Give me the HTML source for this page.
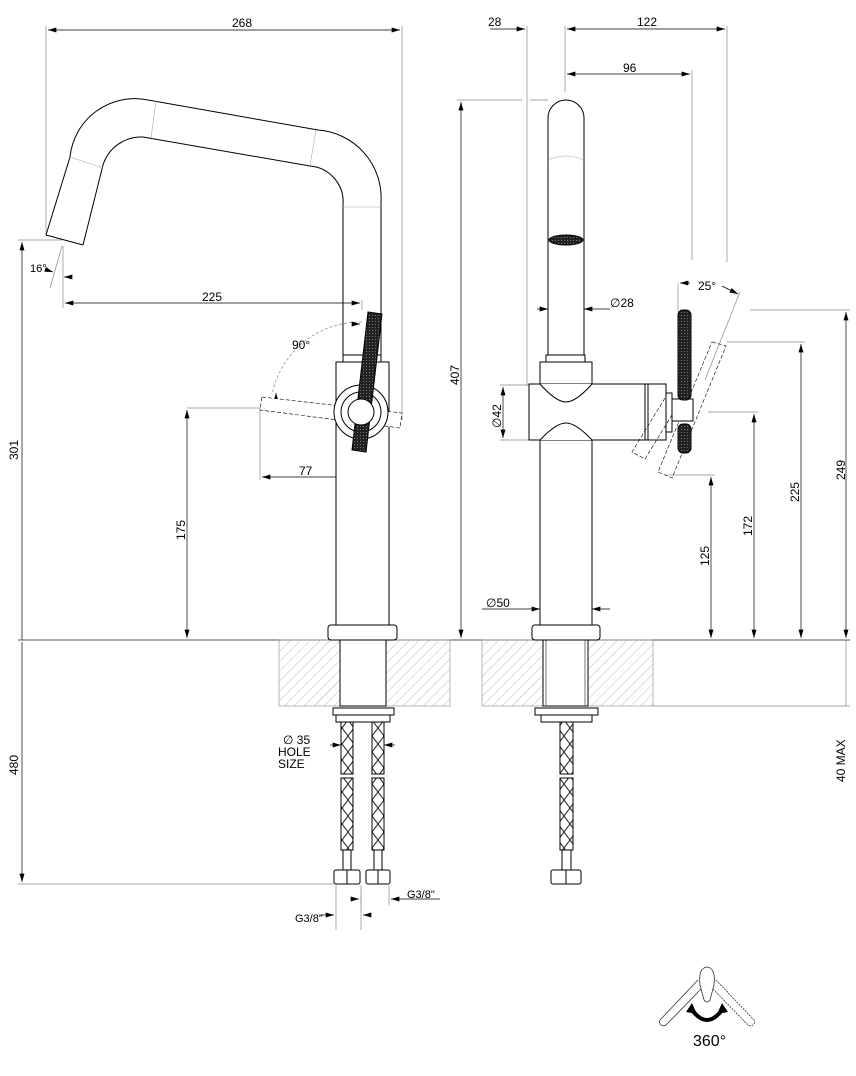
<!DOCTYPE html>
<html><head><meta charset="utf-8"><style>
html,body{margin:0;padding:0;background:#fff;}
svg{display:block;}
text{font-family:"Liberation Sans",sans-serif;font-size:12px;fill:#000;}
</style></head><body>
<svg width="856" height="1076" viewBox="0 0 856 1076" xmlns="http://www.w3.org/2000/svg">
<defs>
<marker id="a" viewBox="0 0 10 6" refX="10" refY="3" markerWidth="10" markerHeight="5" orient="auto-start-reverse" markerUnits="userSpaceOnUse"><path d="M0,0L10,3L0,6z" fill="#000"/></marker>
<pattern id="h" width="7" height="7" patternUnits="userSpaceOnUse" patternTransform="rotate(45)"><line x1="0" y1="0" x2="0" y2="7" stroke="#aaa" stroke-width="0.8"/></pattern>
<pattern id="k" width="3" height="3" patternUnits="userSpaceOnUse"><rect width="3" height="3" fill="#222"/><rect width="1" height="1" fill="#777"/></pattern>
<pattern id="br" width="12" height="16" patternUnits="userSpaceOnUse"><path d="M0,0L12,16M12,0L0,16" stroke="#222" stroke-width="1" fill="none"/></pattern>
</defs>
<g fill="none" stroke="#000" stroke-width="1">
<g stroke="#888" stroke-width="0.7">
<line x1="46" y1="26" x2="46" y2="236"/><line x1="402" y1="26" x2="402" y2="420"/>
<line x1="18" y1="240" x2="62" y2="240"/><line x1="63" y1="246" x2="63" y2="308"/><line x1="62" y1="246" x2="50" y2="288"/>
<line x1="362" y1="300" x2="362" y2="310"/>
<line x1="187" y1="408" x2="262" y2="408"/><line x1="260" y1="408" x2="260" y2="480"/>
<line x1="18" y1="884" x2="334" y2="884"/>
<line x1="527" y1="26" x2="527" y2="385"/><line x1="565" y1="26" x2="565" y2="92"/><line x1="727" y1="26" x2="727" y2="262"/>
<line x1="692" y1="70" x2="692" y2="260"/>
<line x1="457" y1="100" x2="522" y2="100"/><line x1="530" y1="100" x2="548" y2="100"/>
<line x1="500" y1="385" x2="529" y2="385"/><line x1="500" y1="440" x2="529" y2="440"/>
<line x1="750" y1="310" x2="850" y2="310"/><line x1="727" y1="342" x2="805" y2="342"/>
<line x1="708" y1="412" x2="758" y2="412"/><line x1="665" y1="475" x2="715" y2="475"/>
<line x1="678" y1="283" x2="678" y2="312"/><line x1="740" y1="292" x2="705" y2="380"/>
<line x1="846" y1="640" x2="846" y2="706"/><line x1="653" y1="706" x2="850" y2="706"/>
<line x1="361" y1="895" x2="361" y2="905"/><line x1="389" y1="885" x2="389" y2="905"/><line x1="336" y1="885" x2="336" y2="930"/><line x1="361" y1="885" x2="361" y2="930"/>
<path d="M362,322 A90,90 0 0 0 272,395" stroke-dasharray="3,2"/>
</g>
<g stroke-width="0.7">
<line x1="48" y1="30" x2="400" y2="30" marker-start="url(#a)" marker-end="url(#a)"/>
<line x1="22" y1="242" x2="22" y2="640" marker-start="url(#a)"/>
<line x1="22" y1="642" x2="22" y2="882" marker-end="url(#a)"/>
<line x1="65" y1="303" x2="360" y2="303" marker-start="url(#a)" marker-end="url(#a)"/>
<line x1="187" y1="410" x2="187" y2="638" marker-start="url(#a)" marker-end="url(#a)"/>
<line x1="262" y1="477" x2="360" y2="477" marker-start="url(#a)" marker-end="url(#a)"/>
<line x1="64" y1="277" x2="72" y2="277" marker-start="url(#a)"/>
<line x1="53" y1="272" x2="47" y2="270" marker-start="url(#a)"/>
<line x1="360" y1="324" x2="352" y2="324" marker-start="url(#a)"/>
<line x1="276" y1="393" x2="276" y2="398" marker-start="url(#a)"/>
<line x1="490" y1="29" x2="525" y2="29" marker-end="url(#a)"/>
<line x1="567" y1="29" x2="725" y2="29" marker-start="url(#a)" marker-end="url(#a)"/>
<line x1="567" y1="74" x2="690" y2="74" marker-start="url(#a)" marker-end="url(#a)"/>
<line x1="461" y1="102" x2="461" y2="638" marker-start="url(#a)" marker-end="url(#a)"/>
<line x1="503" y1="387" x2="503" y2="438" marker-start="url(#a)" marker-end="url(#a)"/>
<line x1="537" y1="309" x2="548" y2="309" marker-end="url(#a)"/><line x1="584" y1="309" x2="610" y2="309" marker-start="url(#a)"/>
<line x1="482" y1="609" x2="540" y2="609" marker-end="url(#a)"/><line x1="592" y1="609" x2="610" y2="609" marker-start="url(#a)"/>
<line x1="711" y1="477" x2="711" y2="638" marker-start="url(#a)" marker-end="url(#a)"/>
<line x1="754" y1="414" x2="754" y2="638" marker-start="url(#a)" marker-end="url(#a)"/>
<line x1="801" y1="344" x2="801" y2="638" marker-start="url(#a)" marker-end="url(#a)"/>
<line x1="846" y1="312" x2="846" y2="638" marker-start="url(#a)" marker-end="url(#a)"/>
<line x1="690" y1="283" x2="680" y2="283" marker-end="url(#a)"/>
<line x1="722" y1="286" x2="738" y2="294" marker-end="url(#a)"/>
<line x1="330" y1="745" x2="341" y2="745" marker-end="url(#a)"/><line x1="384" y1="745" x2="395" y2="745" marker-start="url(#a)"/>
<line x1="320" y1="915" x2="334" y2="915" marker-end="url(#a)"/><line x1="363" y1="915" x2="368" y2="915" marker-start="url(#a)"/>
<line x1="352" y1="899" x2="359" y2="899" marker-end="url(#a)"/><line x1="391" y1="899" x2="440" y2="899" marker-start="url(#a)"/>
</g>
<line x1="18" y1="640" x2="850" y2="640" stroke="#555"/>
<rect x="279" y="640" width="171" height="66" fill="url(#h)" stroke="#999" stroke-width="0.7"/>
<rect x="482" y="640" width="171" height="66" fill="url(#h)" stroke="#999" stroke-width="0.7"/>
<rect x="340" y="640" width="46" height="66" fill="#fff"/>
<rect x="543" y="640" width="45" height="66" fill="#fff"/>
<line x1="546" y1="640" x2="546" y2="706" stroke="#777"/><line x1="585" y1="640" x2="585" y2="706" stroke="#777"/>
<path d="M46,235 L70,157 A65,65 0 0 1 148,100 L318,130 A68,68 0 0 1 381,202 L381,355"/>
<path d="M83,245 L103,165 A40,40 0 0 1 143,137 L310,166 A36,36 0 0 1 343,205 L343,355"/>
<line x1="46" y1="235" x2="83" y2="245"/>
<g stroke="#aaa" stroke-width="0.6"><line x1="70" y1="157" x2="103" y2="168"/><line x1="156" y1="101" x2="151" y2="138"/><line x1="316" y1="130" x2="310" y2="166"/><line x1="343" y1="207" x2="381" y2="207"/></g>
<rect x="343" y="355" width="38" height="7"/>
<rect x="336" y="362" width="53" height="263" fill="#fff"/>
<path d="M262,397 L402,413 L400,428 L260,410 Z" stroke-dasharray="4,2" stroke-width="0.6" fill="#fff"/>
<circle cx="361" cy="412" r="27" fill="#fff"/><circle cx="361" cy="412" r="20"/>
<path d="M368,312 L382,314 L366,452 L352,450 Z" fill="url(#k)"/>
<circle cx="361" cy="412" r="13" fill="#fff"/>
<rect x="328" y="625" width="69" height="15" rx="3" fill="#fff"/>
<rect x="340" y="640" width="46" height="66"/>
<rect x="333" y="708" width="61" height="7" fill="#fff"/>
<path d="M336,715 L336,722 L390,722 L390,715"/>
<rect x="341" y="722" width="12" height="52" fill="url(#br)"/><rect x="372" y="722" width="12" height="52" fill="url(#br)"/>
<rect x="341" y="778" width="12" height="72" fill="url(#br)"/><rect x="372" y="778" width="12" height="72" fill="url(#br)"/>
<rect x="343" y="850" width="8" height="20"/><rect x="374" y="850" width="8" height="20"/>
<rect x="334" y="870" width="26" height="14" rx="2" fill="#fff"/><line x1="347" y1="870" x2="347" y2="884"/>
<rect x="366" y="870" width="24" height="14" rx="2" fill="#fff"/><line x1="378" y1="870" x2="378" y2="884"/>
<path d="M548,355 L548,118 A18,18 0 0 1 584,118 L584,355"/>
<path d="M548,160 Q566,152 584,160" stroke="#aaa" stroke-width="0.6"/>
<ellipse cx="566" cy="240" rx="17" ry="5" fill="url(#k)"/>
<rect x="546" y="355" width="39" height="7"/>
<path d="M540,362 L592,362 L592,384 L540,384 Z"/>
<path d="M529,384 L645,384 L645,440 L529,440 Z" fill="#fff"/>
<path d="M540,384 Q556,402 566,402 Q576,402 592,384" fill="#fff"/>
<path d="M540,440 Q556,423 566,423 Q576,423 592,440" fill="#fff"/>
<line x1="540" y1="440" x2="540" y2="625"/><line x1="592" y1="440" x2="592" y2="625"/>
<rect x="645" y="384" width="21" height="56"/><line x1="648" y1="384" x2="648" y2="440"/>
<rect x="666" y="393" width="6" height="39"/>
<g stroke-dasharray="4,2" stroke-width="0.6"><path d="M665,398 L632,452 L645,459 L678,405"/><path d="M712,342 L726,346 L672,478 L658,472 Z"/></g>
<rect x="672" y="399" width="21" height="22" fill="#fff"/>
<rect x="678" y="310" width="13" height="90" rx="5" fill="url(#k)"/>
<rect x="678" y="424" width="13" height="29" rx="5" fill="url(#k)"/>
<rect x="532" y="625" width="68" height="15" rx="3" fill="#fff"/>
<rect x="535" y="708" width="63" height="7" fill="#fff"/>
<path d="M541,715 L541,722 L592,722 L592,715"/>
<rect x="560" y="722" width="13" height="52" fill="url(#br)"/><rect x="560" y="778" width="13" height="72" fill="url(#br)"/>
<rect x="562" y="850" width="9" height="20"/>
<rect x="551" y="870" width="30" height="14" rx="2" fill="#fff"/><line x1="566" y1="870" x2="566" y2="884"/>
<g stroke="#333" stroke-width="0.8">
<path d="M698,980 L660,1020 A4,4 0 0 0 666,1025 L703,987"/>
<path d="M716,980 L754,1020 A4,4 0 0 1 748,1025 L711,987" stroke-dasharray="2,1"/>
<path d="M700,985 Q698,968 707,967 Q716,968 714,985 L710,1000 Q707,1004 704,1000 Z" fill="#fff"/>
</g>
<path d="M692,1010 Q707,1030 722,1010" stroke="#000" stroke-width="4"/>
<path d="M686,1012 L692,1003 L697,1014 Z M728,1012 L722,1003 L717,1014 Z" fill="#000" stroke="none"/>
</g>
<text x="232" y="27">268</text>
<text x="202" y="301">225</text>
<text x="299" y="475">77</text>
<text x="30" y="272" style="font-size:11px">16°</text>
<text x="292" y="349">90°</text>
<text transform="translate(18,460) rotate(-90)">301</text>
<text transform="translate(18,775) rotate(-90)">480</text>
<text transform="translate(185,540) rotate(-90)">175</text>
<text x="283" y="744">∅ 35</text>
<text x="278" y="756">HOLE</text>
<text x="278" y="768">SIZE</text>
<text x="407" y="898" style="font-size:11px">G3/8"</text>
<text x="295" y="922" style="font-size:11px">G3/8"</text>
<text x="488" y="26">28</text>
<text x="637" y="26">122</text>
<text x="623" y="72">96</text>
<text x="610" y="307">∅28</text>
<text x="486" y="607">∅50</text>
<text x="698" y="290">25°</text>
<text transform="translate(459,385) rotate(-90)">407</text>
<text transform="translate(501,428) rotate(-90)">∅42</text>
<text transform="translate(709,566) rotate(-90)">125</text>
<text transform="translate(752,536) rotate(-90)">172</text>
<text transform="translate(799,502) rotate(-90)">225</text>
<text transform="translate(845,480) rotate(-90)">249</text>
<text transform="translate(845,782) rotate(-90)">40 MAX</text>
<text x="693" y="1046" style="font-size:16px">360°</text>
</svg>
</body></html>
